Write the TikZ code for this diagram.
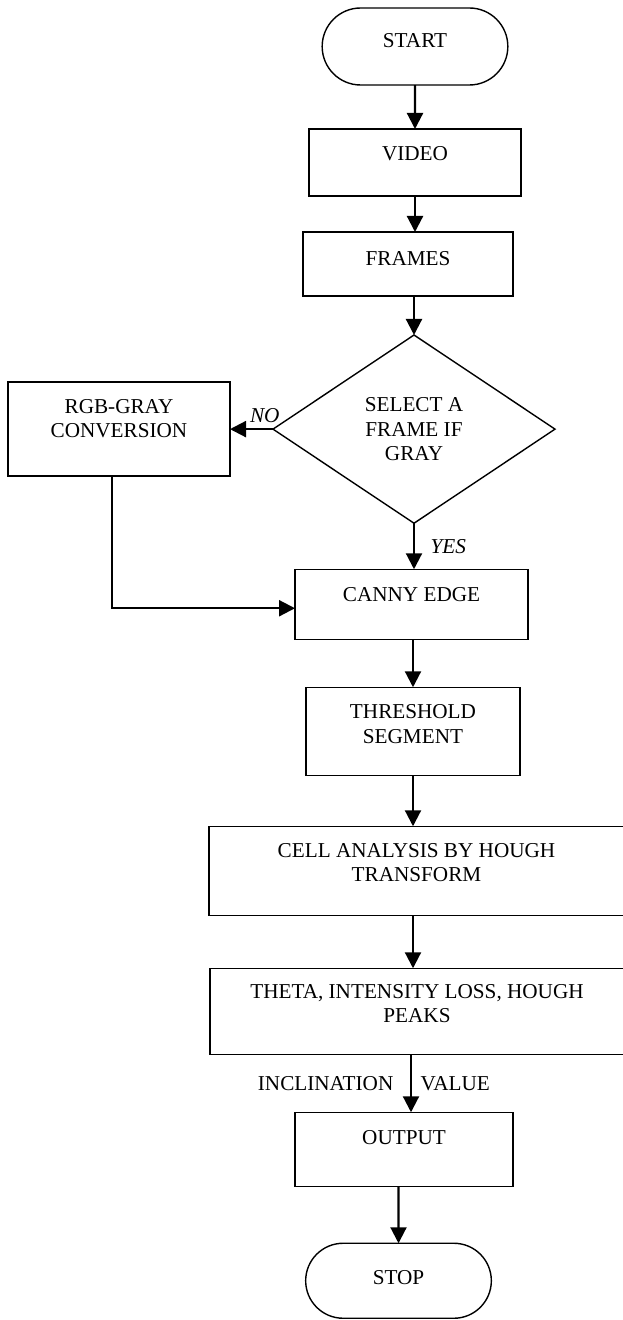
\documentclass[tikz,border=0pt]{standalone}
\usepackage{fontspec}
\setmainfont{Liberation Serif}
\usetikzlibrary{positioning,shapes.geometric,shapes.misc,arrows.meta}

\begin{document}
\begin{tikzpicture}[
  x = 0.5pt, y = -0.5pt,
  font = \fontsize{10.6}{12.25}\selectfont,
  every node/.style = {align = center, outer sep = 0pt},
  box/.style = {draw, rectangle, line width = 0.7pt},
  term/.style = {draw, rounded rectangle, line width = 0.7pt, minimum width = 99.5pt},
  flow/.style = {line width = 1.1pt, -{Triangle[length = 8pt, width = 8pt]}},
  yesno/.style = {font = \fontsize{10.6}{12.25}\selectfont\itshape}
]

\useasboundingbox (0,0) rectangle (622,1320);

\node (start) [term, minimum height = 38.5pt, text depth = 6pt] at (415,46.5) {START};
\node (video) [box, below = 22pt of start, minimum width = 106pt, minimum height = 33.5pt,
  text depth = 9pt] {VIDEO};
\node (frames) [box, below = 18pt of video, xshift = -3.5pt, minimum width = 105pt,
  minimum height = 32pt, text depth = 6pt] {FRAMES};
\node (gray) [draw, diamond, line width = 0.7pt, below = 19.5pt of frames, xshift = 3pt,
  minimum width = 141pt, minimum height = 94pt] {SELECT A\\FRAME IF\\GRAY};
\node (rgb) [box, left = 21.5pt of gray, minimum width = 111pt, minimum height = 47pt,
  text depth = 10.5pt] {RGB-GRAY\\CONVERSION};
\node (canny) [box, below = 23pt of gray, xshift = -1.25pt, minimum width = 116.5pt,
  minimum height = 35pt, text depth = 9.5pt] {CANNY EDGE};
\node (thr) [box, below = 24pt of canny, xshift = 0.75pt, minimum width = 107pt,
  minimum height = 44pt, text depth = 7.5pt] {THRESHOLD\\SEGMENT};
\node (cell) [box, below = 25.5pt of thr, xshift = 1.75pt, minimum width = 207.5pt,
  minimum height = 44.5pt, text depth = 8.5pt] {CELL ANALYSIS BY HOUGH\\TRANSFORM};
\node (theta) [box, below = 26.5pt of cell, xshift = 0.25pt, minimum width = 207pt,
  minimum height = 43pt, text depth = 8pt] {THETA, INTENSITY LOSS, HOUGH\\PEAKS};
\node (out) [box, below = 29pt of theta, xshift = -6.5pt, minimum width = 109pt,
  minimum height = 37pt, text depth = 11.5pt] {OUTPUT};
\node (stop) [term, below = 28.5pt of out, xshift = -2.75pt, minimum height = 37.5pt,
  text depth = 3pt] {STOP};

\coordinate (vin) at ([xshift = 3.5pt]out.north);

% main line
\draw [flow] (start) -- (video);
\draw [flow] (video) -- (video.south |- frames.north);
\draw [flow] (frames.south -| gray.north) -- (gray);
\draw [flow] (gray) -- node [yesno, above, pos = 0.19] {NO} (rgb);
\draw [flow] (gray) -- node [yesno, right = 5pt] {YES} (gray.south |- canny.north);
\draw [flow] ([xshift = -3.5pt]rgb.south) |- ([yshift = -2pt]canny.west);
\draw [flow] (canny.south -| thr.north) -- (thr);
\draw [flow] (thr) -- (thr.south |- cell.north);
\draw [flow] (cell.south -| thr.south) -- (thr.south |- theta.north);
\draw [flow] (vin |- theta.south) -- node [left = 5.5pt] {INCLINATION}
  node [right = 1.5pt] {VALUE} (vin);
\draw [flow] (stop.north |- out.south) -- (stop);

\end{tikzpicture}
\end{document}
